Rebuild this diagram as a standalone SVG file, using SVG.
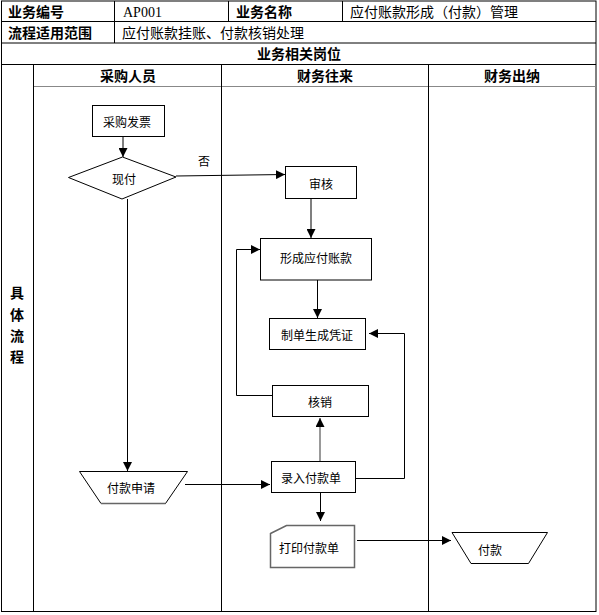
<svg xmlns="http://www.w3.org/2000/svg" width="599" height="615" viewBox="0 0 599 615">
<style>
.hd{font-family:"Noto Sans CJK SC","Liberation Sans",sans-serif;font-size:14px;font-weight:bold;fill:#000}
.val{font-family:"Noto Sans CJK SC","Liberation Serif",serif;font-size:14px;fill:#000}
.ser{font-family:"Liberation Serif",serif;font-size:14px;fill:#000}
.lbl{font-family:"Noto Sans CJK SC","Liberation Sans",sans-serif;font-size:12px;fill:#000;text-anchor:middle;dominant-baseline:central}
.grid{stroke:#000;stroke-width:1;fill:none}
.box{fill:#fff;stroke:#000;stroke-width:1}
.cn{stroke:#000;stroke-width:1;fill:none}
</style>
<defs>
<marker id="ah" viewBox="0 0 10 10" refX="10" refY="5" markerWidth="9" markerHeight="9" markerUnits="userSpaceOnUse" orient="auto">
<path d="M0,0 L10,5 L0,10 z" fill="#000"/>
</marker>
</defs>
<rect width="599" height="615" fill="#fff"/>
<g id="table">
<rect class="grid" x="1.5" y="1" width="594.5" height="610.5"/>
<line class="grid" x1="1.5" y1="21.5" x2="596" y2="21.5"/>
<line class="grid" x1="1.5" y1="43" x2="596" y2="43"/>
<line class="grid" x1="1.5" y1="64.5" x2="596" y2="64.5"/>
<line x1="33.5" y1="86.5" x2="596" y2="86.5" stroke="#888" stroke-width="1"/>
<line class="grid" x1="114.5" y1="1" x2="114.5" y2="43"/>
<line class="grid" x1="228.5" y1="1" x2="228.5" y2="21.5"/>
<line class="grid" x1="342.5" y1="1" x2="342.5" y2="21.5"/>
<line class="grid" x1="33.5" y1="64.5" x2="33.5" y2="611.5"/>
<line class="grid" x1="221.5" y1="64.5" x2="221.5" y2="611.5"/>
<line class="grid" x1="428.5" y1="64.5" x2="428.5" y2="611.5"/>
<text class="hd" x="8" y="16.5">业务编号</text>
<text class="ser" x="123" y="16.5">AP001</text>
<text class="hd" x="236" y="16.5">业务名称</text>
<text class="val" x="350" y="16.5">应付账款形成（付款）管理</text>
<text class="hd" x="8" y="37.5">流程适用范围</text>
<text class="val" x="122" y="37.5">应付账款挂账、付款核销处理</text>
<text class="hd" x="299" y="59" text-anchor="middle">业务相关岗位</text>
<text class="hd" x="128" y="80.5" text-anchor="middle">采购人员</text>
<text class="hd" x="325" y="80.5" text-anchor="middle">财务往来</text>
<text class="hd" x="512" y="80.5" text-anchor="middle">财务出纳</text>
<text class="hd" x="17" y="298" text-anchor="middle">具</text>
<text class="hd" x="17" y="320" text-anchor="middle">体</text>
<text class="hd" x="17" y="341" text-anchor="middle">流</text>
<text class="hd" x="17" y="362" text-anchor="middle">程</text>
</g>
<g id="connectors">
<line class="cn" x1="123" y1="136" x2="123" y2="157" marker-end="url(#ah)"/>
<line class="cn" x1="176" y1="176" x2="285" y2="174.5" marker-end="url(#ah)"/>
<text x="204" y="166" font-family="Noto Sans CJK SC,sans-serif" font-size="12" text-anchor="middle">否</text>
<line class="cn" x1="127.5" y1="199" x2="127.5" y2="471" marker-end="url(#ah)"/>
<line x1="311" y1="198" x2="311" y2="238" stroke="#555" stroke-width="1.5" marker-end="url(#ah)"/>
<line class="cn" x1="317.5" y1="280" x2="317.5" y2="318" marker-end="url(#ah)"/>
<polyline class="cn" points="272.5,395.5 236.5,395.5 236.5,249.5 260,249.5" marker-end="url(#ah)"/>
<line x1="320" y1="461" x2="320" y2="418" stroke="#555" stroke-width="1.2" marker-end="url(#ah)"/>
<polyline class="cn" points="356,478.5 404.5,478.5 404.5,333.5 369,333.5" marker-end="url(#ah)"/>
<line class="cn" x1="185" y1="484.5" x2="270" y2="484.5" marker-end="url(#ah)"/>
<line class="cn" x1="320.5" y1="492" x2="320.5" y2="521" marker-end="url(#ah)"/>
<line class="cn" x1="357" y1="540.5" x2="451" y2="540.5" marker-end="url(#ah)"/>
</g>
<g id="n-caigoufapiao">
<rect class="box" x="92.5" y="105.5" width="72" height="31"/>
<text class="lbl" x="127" y="121">采购发票</text>
</g>
<g id="n-xianfu">
<polygon class="box" points="68.5,177.5 122.5,157 176,177 122,199"/>
<text class="lbl" x="124" y="178">现付</text>
</g>
<g id="n-shenhe">
<rect class="box" x="285.5" y="166.5" width="71" height="32"/>
<text class="lbl" x="321" y="183">审核</text>
</g>
<g id="n-xingcheng">
<rect class="box" x="260.5" y="238.5" width="111" height="41.5"/>
<text class="lbl" x="316" y="257.5">形成应付账款</text>
</g>
<g id="n-zhidan">
<rect class="box" x="269.5" y="318.5" width="96" height="31"/>
<text class="lbl" x="317" y="334">制单生成凭证</text>
</g>
<g id="n-hexiao">
<rect class="box" x="272.5" y="385.5" width="96" height="31"/>
<text class="lbl" x="320" y="401">核销</text>
</g>
<g id="n-fukuanshenqing">
<polygon class="box" points="79.5,471.5 187.5,471.5 165.5,503.5 101,503.5"/>
<line x1="101" y1="503.5" x2="165.5" y2="503.5" stroke="#666" stroke-width="1.5"/>
<text class="lbl" x="131" y="487.5">付款申请</text>
</g>
<g id="n-luru">
<rect class="box" x="271.5" y="461.5" width="84" height="31"/>
<text class="lbl" x="311" y="477">录入付款单</text>
</g>
<g id="n-dayin">
<polygon points="270.5,533.5 286.5,525.5 354.5,525.5 354.5,567.5 270.5,567.5" fill="#fff" stroke="#666" stroke-width="1.5"/>
<text class="lbl" x="309" y="547">打印付款单</text>
</g>
<g id="n-fukuan">
<polygon class="box" points="452,532.5 547.5,532.5 528.5,563.5 471,563.5"/>
<text class="lbl" x="490" y="549">付款</text>
</g>
</svg>
